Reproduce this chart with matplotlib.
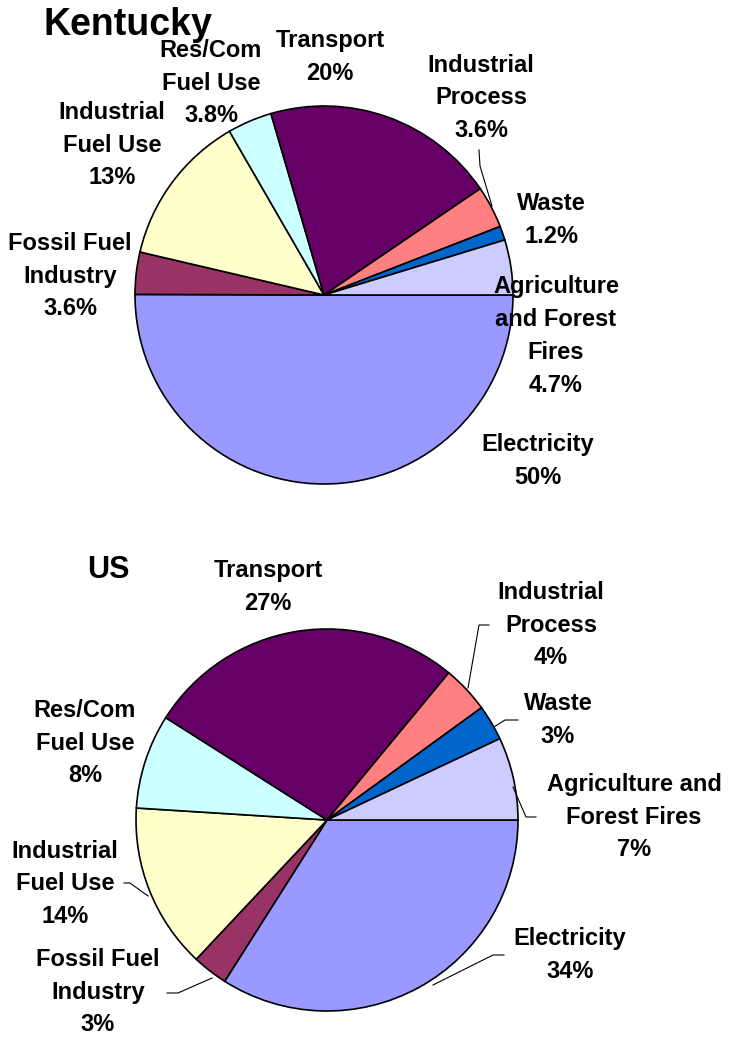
import matplotlib.pyplot as plt

sectors = ['Electricity', 'Fossil Fuel Industry', 'Industrial Fuel Use', 'Res/Com Fuel Use',
           'Transport', 'Industrial Process', 'Waste', 'Agriculture and Forest Fires']
ky_share = [50, 3.6, 13, 3.8, 20, 3.6, 1.2, 4.7]
us_share = [34, 3, 14, 8, 27, 4, 3, 7]
colors = ['#9999FF', '#993366', '#FFFFCC', '#CCFFFF', '#660066', '#FF8080', '#0066CC', '#CCCCFF']

plt.rcParams['font.family'] = ['Liberation Sans', 'DejaVu Sans']

W, H = 732, 1038
fig = plt.figure(figsize=(W / 100, H / 100), dpi=100)
ax = fig.add_axes([0, 0, 1, 1])


def Y(y):
    return H - y


def fmt(v):
    return f'{v:g}%'


wp = dict(edgecolor='black', linewidth=1.2)
ax.pie(ky_share, colors=colors, startangle=0, counterclock=False,
       center=(324, Y(295)), radius=189, frame=True, wedgeprops=wp)
ax.pie(us_share, colors=colors, startangle=0, counterclock=False,
       center=(327, Y(820)), radius=191, frame=True, wedgeprops=wp)

ax.set_xlim(0, W)
ax.set_ylim(0, H)
ax.set_aspect('equal')
ax.axis('off')

lab = dict(fontsize=17, fontweight='bold', ha='center', va='center', linespacing=1.55)

# Kentucky
ax.text(128, Y(25), 'Kentucky', fontsize=27, fontweight='bold', ha='center', va='center')
ky_text = ['Electricity', 'Fossil Fuel\nIndustry', 'Industrial\nFuel Use', 'Res/Com\nFuel Use',
           'Transport', 'Industrial\nProcess', 'Waste', 'Agriculture\nand Forest\nFires']
ky_pos = [(538, 461), (70, 276), (112, 145), (211, 83),
          (330, 57), (481, 98), (551, 220), (556, 336)]
for t, v, (x, y) in zip(ky_text, ky_share, ky_pos):
    ax.text(x, Y(y), t + '\n' + fmt(v), **lab)
ax.plot([479, 480, 492], [Y(150), Y(166), Y(206)], color='black', lw=0.8)

# US
ax.text(108, Y(570), 'US', fontsize=22, fontweight='bold', ha='center', va='center')
us_text = ['Electricity', 'Fossil Fuel\nIndustry', 'Industrial\nFuel Use', 'Res/Com\nFuel Use',
           'Transport', 'Industrial\nProcess', 'Waste', 'Agriculture and\nForest Fires']
us_pos = [(570, 955), (98, 992), (65, 884), (85, 743),
          (268, 587), (551, 625), (558, 720), (634, 817)]
for t, v, (x, y) in zip(us_text, us_share, us_pos):
    ax.text(x, Y(y), t + '\n' + fmt(v), **lab)

leaders = [
    ([489, 479, 468], [625, 625, 688]),
    ([518, 505, 494], [720, 720, 727]),
    ([536, 526, 513], [817, 817, 787]),
    ([504, 493, 433], [955, 955, 985]),
    ([124, 130, 148], [883, 883, 896]),
    ([167, 178, 212], [993, 993, 978]),
]
for xs, ys in leaders:
    ax.plot(xs, [Y(v) for v in ys], color='black', lw=0.8)

fig.savefig('out.png', dpi=100)
